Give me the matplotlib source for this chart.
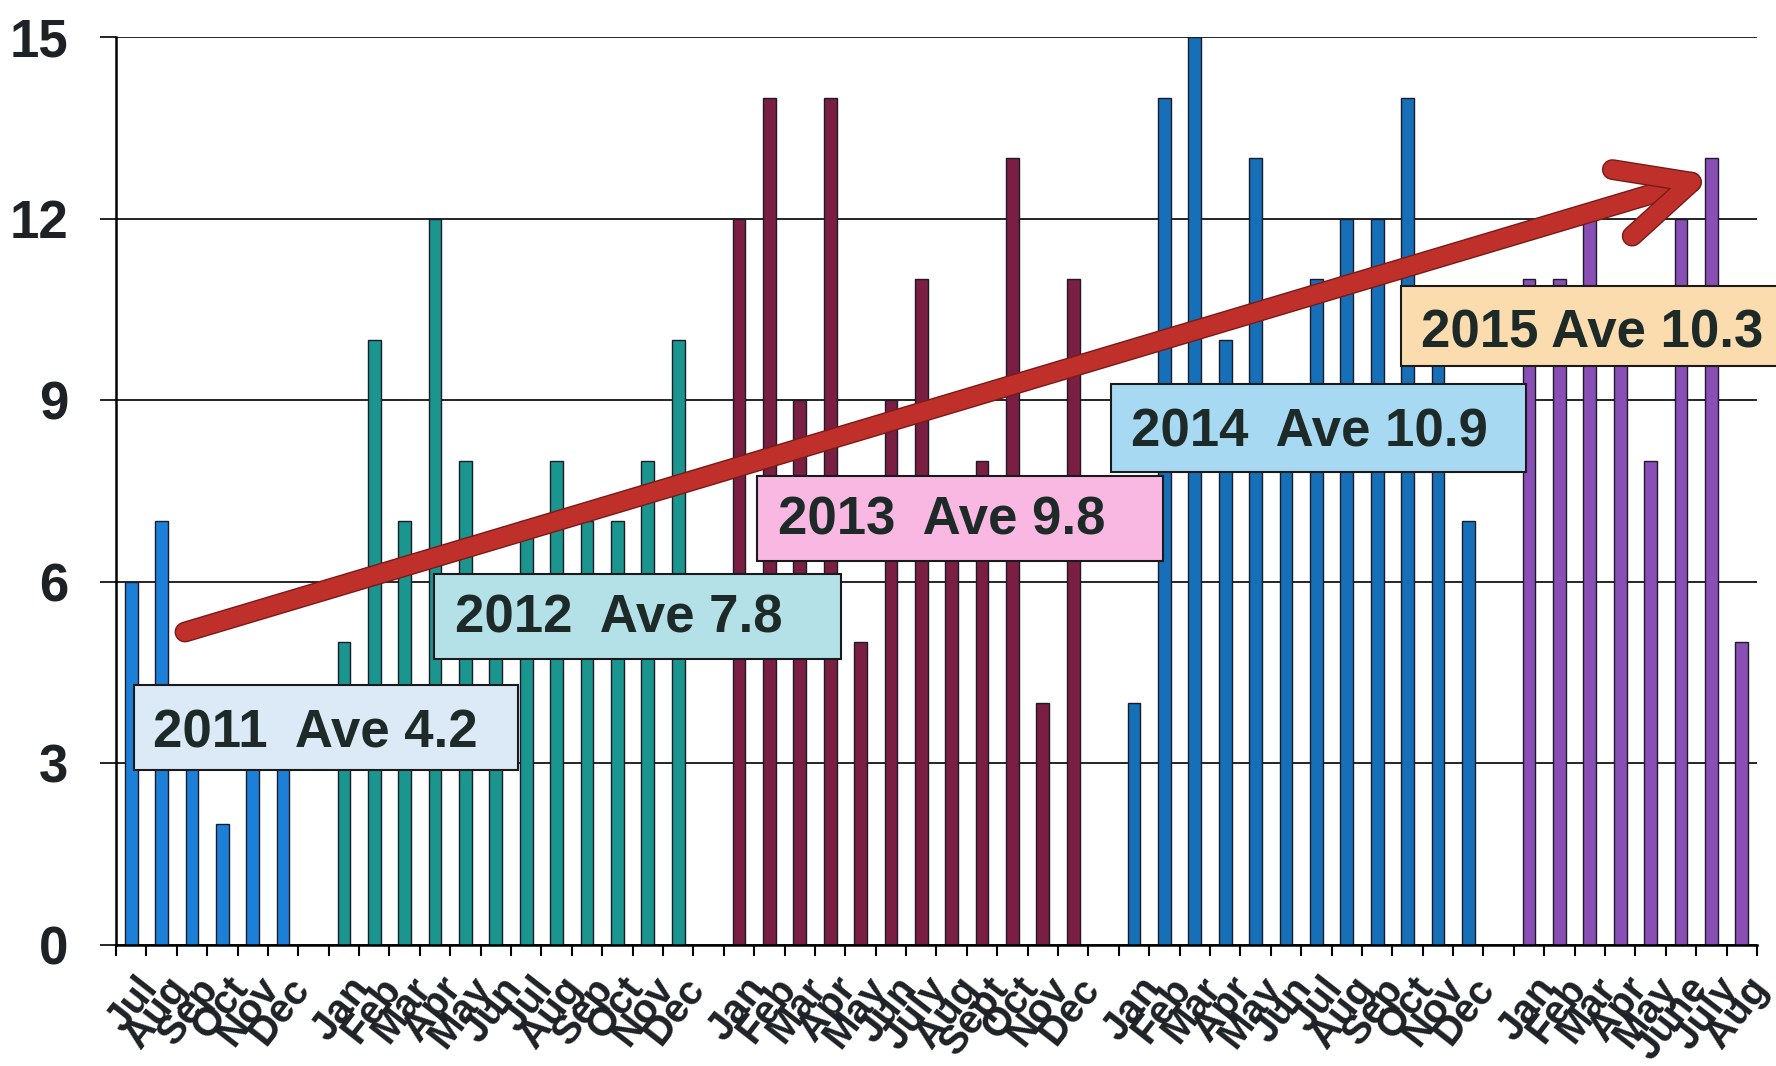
import numpy as np
import matplotlib.pyplot as plt
import matplotlib.patheffects as pe
from matplotlib.patches import Rectangle
from matplotlib.transforms import ScaledTranslation

plt.rcParams['font.family'] = ['Liberation Sans', 'DejaVu Sans']

# Monthly counts, one list per year
months_2011 = ["Jul", "Aug", "Sep", "Oct", "Nov", "Dec"]
vals_2011 = [6, 7, 4, 2, 3, 3]
months_2012 = ["Jan", "Feb", "Mar", "Apr", "May", "Jun", "Jul", "Aug", "Sep", "Oct", "Nov", "Dec"]
vals_2012 = [5, 10, 7, 12, 8, 5, 7, 8, 7, 7, 8, 10]
months_2013 = ["Jan", "Feb", "Mar", "Apr", "May", "Jun", "July", "Aug", "Sept", "Oct", "Nov", "Dec"]
vals_2013 = [12, 14, 9, 14, 5, 9, 11, 7, 8, 13, 4, 11]
months_2014 = ["Jan", "Feb", "Mar", "Apr", "May", "Jun", "Jul", "Aug", "Sep", "Oct", "Nov", "Dec"]
vals_2014 = [4, 14, 15, 10, 13, 9, 11, 12, 12, 14, 10, 7]
months_2015 = ["Jan", "Feb", "Mar", "Apr", "May", "June", "July", "Aug"]
vals_2015 = [11, 11, 12, 10, 8, 12, 13, 5]

years = ["2011", "2012", "2013", "2014", "2015"]
averages = [4.2, 7.8, 9.8, 10.9, 10.3]
box_texts = ["2011  Ave 4.2", "2012  Ave 7.8", "2013  Ave 9.8", "2014  Ave 10.9", "2015 Ave 10.3"]

bar_colors = ["#1d80d8", "#1b968f", "#7a1f42", "#1570b8", "#8a4fb5"]
box_colors = ["#dce9f6", "#b3e1e7", "#f8b8e2", "#a8d9f2", "#fbdcae"]

# box layout (data units): x0, x1, y0, y1, text x, text baseline
box_x0 = [0.09, 9.96, 20.6, 32.23, 41.8]
box_x1 = [12.72, 23.35, 33.94, 45.91, 56.0]
box_y0 = [2.89, 4.73, 6.35, 7.82, 9.57]
box_y1 = [4.30, 6.13, 7.75, 9.27, 10.88]
text_x = [0.72, 10.65, 21.28, 32.89, 42.46]
text_y = [3.27, 5.16, 6.78, 8.23, 9.87]

# trend arrow (data units)
arrow_start = (1.77, 5.17)
arrow_end = (52.0, 12.7)

all_months = [months_2011, months_2012, months_2013, months_2014, months_2015]
all_vals = [vals_2011, vals_2012, vals_2013, vals_2014, vals_2015]

fig = plt.figure(figsize=(17.76, 10.66), dpi=100)
ax = fig.add_axes([0.0653, 0.1135, 0.9240, 0.8518])

labels = []
pos = 0
for i, (m, v) in enumerate(zip(all_months, all_vals)):
    x = np.arange(pos, pos + len(m))
    ax.bar(x, v, width=0.42, color=bar_colors[i], edgecolor="#1b1b2b",
           linewidth=1.0, zorder=2)
    labels += m
    pos += len(m)
    if i < len(all_months) - 1:
        labels.append("")
        pos += 1

n = len(labels)
ax.set_xlim(-0.5, n - 0.5)
ax.set_ylim(0, 15)

ax.set_yticks([0, 3, 6, 9, 12, 15])
ax.yaxis.grid(True, color="black", linewidth=1.2, zorder=0)
ax.set_axisbelow(True)
ax.tick_params(axis="y", length=11.5, width=1.2, pad=23, labelsize=38)
for t in ax.get_yticklabels():
    t.set_fontweight("bold")
    t.set_color("#1e2226")

ax.set_xticks(np.arange(n))
ax.set_xticks(np.arange(n + 1) - 0.5, minor=True)
ax.tick_params(axis="x", which="major", length=0, pad=18)
ax.tick_params(axis="x", which="minor", length=8, width=1.5)
ax.set_xticklabels(labels, rotation=52, ha="right", va="top",
                   rotation_mode="anchor", fontsize=29, fontweight="bold",
                   color="#1e2226")
offset = ScaledTranslation(4 / 100, 0, fig.dpi_scale_trans)
for t in ax.get_xticklabels():
    t.set_transform(t.get_transform() + offset)

for s in ["top", "right"]:
    ax.spines[s].set_visible(False)
for s in ["left", "bottom"]:
    ax.spines[s].set_linewidth(1.8)

# year average boxes
for i in range(len(years)):
    ax.add_patch(Rectangle((box_x0[i], box_y0[i]), box_x1[i] - box_x0[i],
                           box_y1[i] - box_y0[i], facecolor=box_colors[i],
                           edgecolor="#1a1a1a", linewidth=1.5, zorder=4,
                           clip_on=False))
    ax.text(text_x[i], text_y[i], box_texts[i], fontsize=38, fontweight="bold",
            color="#1e2a28", ha="left", va="baseline", zorder=5, clip_on=False)

# trend arrow
ax.annotate("", xy=arrow_end, xytext=arrow_start, zorder=6,
            arrowprops=dict(arrowstyle="->,head_length=52,head_width=25",
                            mutation_scale=1, lw=13, color="#c0302a",
                            shrinkA=0, shrinkB=0, capstyle="round",
                            joinstyle="round",
                            path_effects=[pe.withStroke(linewidth=15, foreground="#7a1a18")]))

fig.savefig("out.png", dpi=100)
